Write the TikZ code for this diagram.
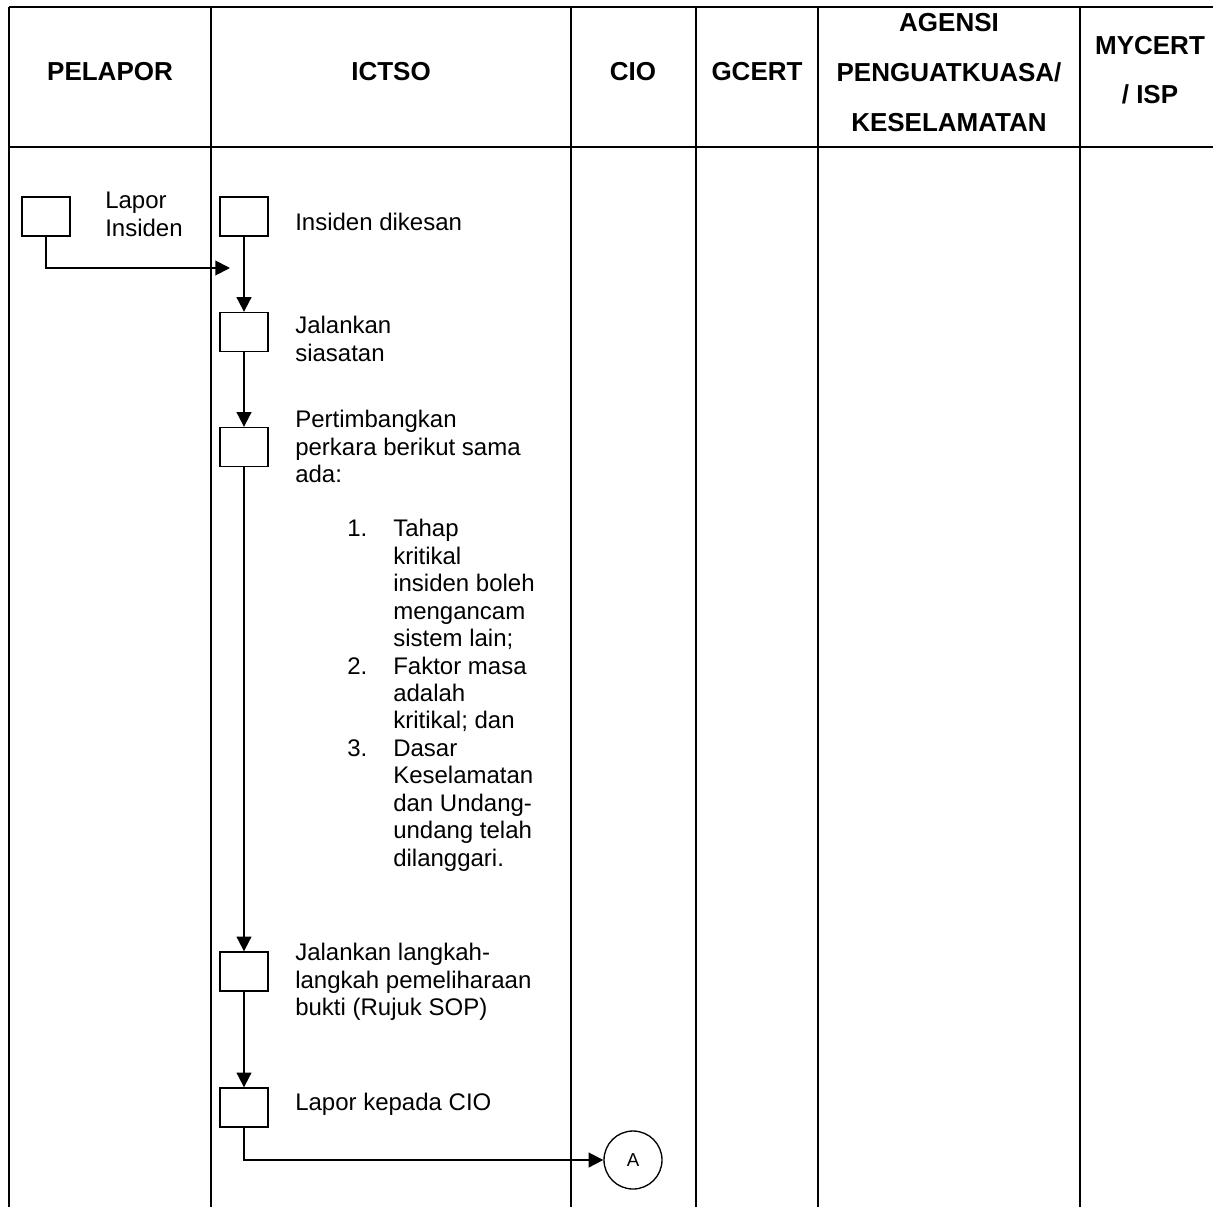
\documentclass[tikz,border=0pt]{standalone}
\usepackage{fontspec}
\setmainfont{Liberation Sans}
\usetikzlibrary{arrows.meta}
\begin{document}
\begin{tikzpicture}[x=0.75pt,y=-0.75pt,
  grid/.style={line width=1.5pt},
  stepbox/.style={draw,line width=1pt,minimum width=36pt,minimum height=29.25pt,inner sep=0pt},
  conn/.style={line width=1.4pt,-{Triangle[length=11pt,width=11pt]}},
  head/.style={font=\fontsize{19.5}{37.5}\selectfont\bfseries,inner sep=0pt,align=center},
  body/.style={font=\fontsize{18}{20.6}\selectfont,inner sep=0pt,align=left,anchor=north west},
]
\useasboundingbox (0,0) rectangle (1213,1207);
% table grid
\draw[grid] (9,7) -- (1213,7);
\draw[grid] (9,147) -- (1213,147);
\foreach \xx in {9,211,571,696,818,1080}{
  \draw[grid] (\xx,7) -- (\xx,1207);
}
% headers
\node[head,anchor=base] (hpel) at (110,80) {PELAPOR};
\node[head,anchor=base] (hict) at (391,80) {ICTSO};
\node[head,anchor=base] (hcio) at (633,80) {CIO};
\node[head,anchor=base] (hgce) at (757,80) {GCERT};
\node[head,anchor=north] (hage) at (949,13.4) {AGENSI\\PENGUATKUASA/\\KESELAMATAN};
\node[head,anchor=north,font=\fontsize{19.5}{36.75}\selectfont\bfseries] (hmyc) at (1150,36.4) {MYCERT\\/ ISP};
% boxes
\node[stepbox] (p1) at (46,216.5) {};
\node[stepbox] (b1) at (244,216.5) {};
\node[stepbox] (b2) at (244,332) {};
\node[stepbox] (b3) at (244,447) {};
\node[stepbox] (b4) at (244,971.5) {};
\node[stepbox] (b5) at (244,1107.5) {};
\node[draw,circle,line width=1pt,minimum size=43.5pt,inner sep=0pt,font=\fontsize{14}{16}\selectfont] (A) at (633,1160) {A};
\coordinate (j1) at (230,268);
% connectors
\draw[conn] (p1.south) |- (j1);
\draw[conn] (b1) -- (b2);
\draw[conn] (b2) -- (b3);
\draw[conn] (b3) -- (b4);
\draw[conn] (b4) -- (b5);
\draw[conn] (b5.south) |- (A.west);
% texts
\node[body] (t0) at (105,192) {Lapor\\Insiden};
\node[body,anchor=base west] (t1) at (295,230) {Insiden dikesan};
\node[body] (t2) at (295,316) {Jalankan\\siasatan};
\node[body] (t3) at (295,410) {Pertimbangkan\\perkara berikut sama\\ada:};
\node[body] (t4) at (347,519) {\makebox[34.5pt][l]{1.}Tahap\\
\hspace*{34.5pt}kritikal\\
\hspace*{34.5pt}insiden boleh\\
\hspace*{34.5pt}mengancam\\
\hspace*{34.5pt}sistem lain;\\
\makebox[34.5pt][l]{2.}Faktor masa\\
\hspace*{34.5pt}adalah\\
\hspace*{34.5pt}kritikal; dan\\
\makebox[34.5pt][l]{3.}Dasar\\
\hspace*{34.5pt}Keselamatan\\
\hspace*{34.5pt}dan Undang-\\
\hspace*{34.5pt}undang telah\\
\hspace*{34.5pt}dilanggari.};
\node[body] (t5) at (295,943) {Jalankan langkah-\\langkah pemeliharaan\\bukti (Rujuk SOP)};
\node[body,anchor=base west] (t6) at (295,1110) {Lapor kepada CIO};
\end{tikzpicture}
\end{document}
